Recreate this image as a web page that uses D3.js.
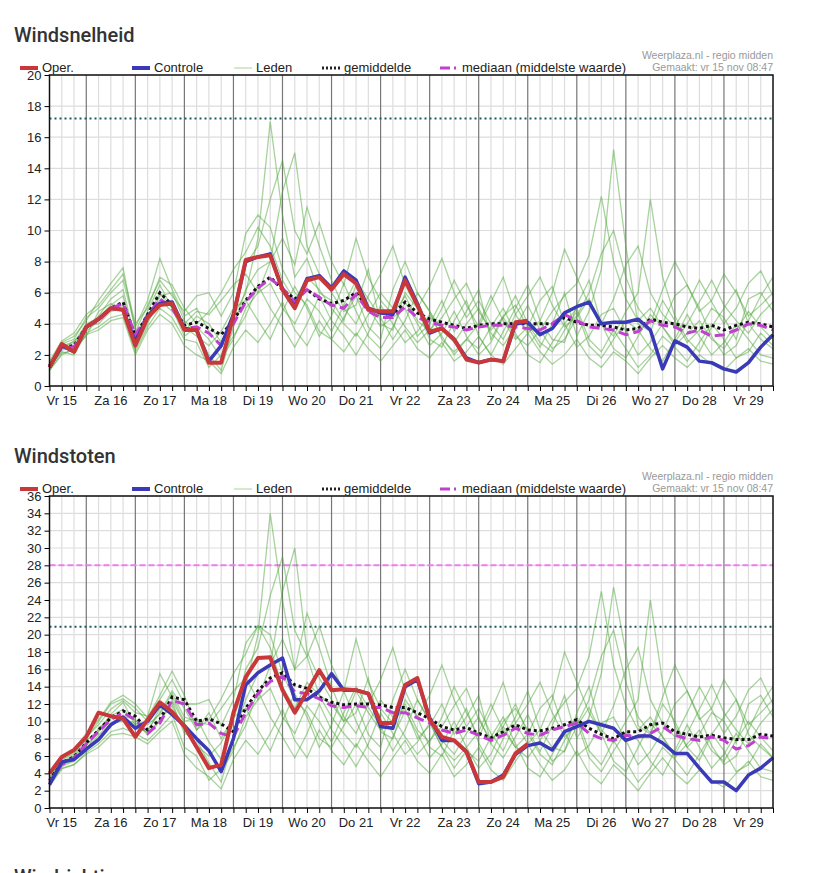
<!DOCTYPE html>
<html><head><meta charset="utf-8">
<script src="https://cdn.jsdelivr.net/npm/d3@7"></script>
<style>body{margin:0;background:#fff;font-family:Roboto,Arial,sans-serif}</style>
</head><body><svg id="c" width="833" height="873"></svg>
<script>
const dayLabels=["Vr 15","Za 16","Zo 17","Ma 18","Di 19","Wo 20","Do 21","Vr 22","Za 23","Zo 24","Ma 25","Di 26","Wo 27","Do 28","Vr 29"];
// 6-hourly steps from Vr 15 06:00
const speedOper=[1.2,2.7,2.2,3.8,4.3,5.0,4.9,2.6,4.4,5.2,5.3,3.6,3.6,1.5,1.5,4.5,8.1,8.3,8.4,6.2,5.0,6.8,7.0,6.2,7.2,6.6,4.9,4.8,4.8,6.8,5.2,3.5,3.7,3.0,1.7,1.5,1.7,1.6,4.1,4.2];
const speedCtrl=[1.2,2.6,2.2,3.8,4.3,5.0,4.9,2.8,4.5,5.3,5.4,3.7,3.6,1.6,2.6,4.6,8.0,8.3,8.5,6.2,5.1,6.9,7.1,6.3,7.4,6.8,5.0,4.7,4.6,7.0,5.3,3.4,3.7,3.0,1.8,1.5,1.7,1.6,4.0,4.1,3.3,3.7,4.7,5.1,5.4,4.0,4.1,4.1,4.3,3.6,1.1,2.9,2.5,1.6,1.5,1.1,0.9,1.5,2.5,3.3];
const speedMean=[1.3,2.5,2.6,3.8,4.3,5.0,5.4,3.2,4.6,6.0,5.2,3.9,4.1,3.7,3.3,4.2,5.5,6.4,7.0,6.2,5.6,6.2,5.6,5.3,5.5,6.0,5.0,4.7,4.6,5.4,4.7,4.3,4.1,3.9,3.7,3.9,4.0,4.0,4.0,4.0,4.0,4.0,4.4,4.1,3.9,3.9,3.8,3.6,3.7,4.3,4.1,4.0,3.8,3.7,3.9,3.6,3.9,4.1,4.0,3.8];
const speedMedian=[1.3,2.5,2.5,3.8,4.2,5.0,5.3,3.3,4.5,5.6,5.0,3.7,3.8,3.4,2.6,4.0,5.4,6.3,6.9,6.3,5.4,6.2,5.7,5.2,5.0,5.9,4.8,4.4,4.4,5.1,4.4,4.1,3.9,3.8,3.6,3.8,3.9,3.9,3.8,3.7,3.6,4.0,4.6,4.2,3.8,3.7,3.6,3.3,3.5,4.2,3.9,3.8,3.4,3.6,3.2,3.3,3.6,4.0,3.9,3.6];
const speedMembers=[
[1.3,2.4,2.9,3.6,4.5,5.6,6.2,3.0,4.8,6.5,5.0,3.5,4.5,4.0,2.8,4.5,6.0,9.5,17.0,11.0,7.0,8.2,6.0,5.5,4.2,6.5,5.0,3.8,4.4,5.0,3.2,4.0,5.5,3.5,4.8,6.2,3.0,4.5,5.2,3.8,2.5,4.0,6.0,3.2,4.8,7.5,15.2,9.0,4.0,3.5,5.5,4.2,2.8,3.6,5.0,4.4,3.0,5.6,6.0,4.8],
[1.0,2.0,2.4,3.2,4.8,5.3,4.8,2.4,4.0,5.8,6.0,4.2,3.5,2.0,1.0,3.8,6.2,7.5,8.0,12.5,15.0,9.0,7.2,6.0,4.8,5.2,7.5,4.0,3.6,6.0,5.0,3.0,2.5,4.2,5.5,3.2,2.0,3.5,5.0,6.5,4.2,3.0,2.8,5.2,6.8,4.0,3.2,4.8,6.0,12.0,7.0,4.5,3.0,2.2,3.8,5.0,6.2,4.0,3.0,2.4],
[1.5,2.8,3.2,4.2,5.5,6.6,7.6,3.5,5.2,6.8,5.8,4.8,5.8,6.0,4.5,6.0,9.8,11.0,10.2,7.5,6.0,5.2,3.5,3.0,4.4,5.8,3.8,3.0,6.2,8.0,6.0,4.8,3.0,2.2,3.0,4.0,5.8,4.2,3.0,3.8,5.5,6.4,4.0,2.5,3.2,4.6,5.0,3.5,2.0,2.8,4.0,5.8,6.5,5.0,3.2,2.0,2.6,4.2,5.8,7.0],
[1.2,2.2,2.0,3.4,3.8,4.4,4.6,2.2,3.8,5.0,4.4,3.0,2.8,1.2,2.0,3.2,4.5,6.5,5.0,3.8,2.5,4.0,5.8,4.2,3.2,2.0,3.4,5.2,4.0,2.8,3.5,4.6,3.2,2.0,3.0,2.4,3.8,5.0,3.4,2.0,1.5,2.8,4.0,5.0,3.0,2.2,3.6,2.4,1.2,2.0,3.2,2.5,1.6,2.8,4.0,3.0,1.8,2.2,3.4,2.6],
[1.4,2.6,2.8,4.0,4.4,5.2,5.8,3.0,4.6,5.5,4.8,4.0,4.8,4.6,5.5,6.5,7.2,6.0,8.0,9.5,7.8,11.5,9.0,6.8,5.0,4.0,5.8,7.2,9.0,6.5,5.0,6.4,8.2,6.0,4.4,5.5,4.0,3.0,4.6,5.8,7.0,5.2,3.8,4.5,6.0,8.5,10.0,7.0,5.0,4.0,6.2,8.0,6.5,4.8,5.5,7.2,6.0,4.5,5.2,6.0],
[1.1,2.5,2.6,3.9,4.0,4.8,5.0,2.8,4.2,5.2,5.4,3.8,3.2,2.6,3.5,5.0,5.5,4.2,3.0,4.8,6.4,5.0,3.2,4.5,6.6,4.8,3.2,2.4,3.8,5.4,4.0,2.6,3.4,4.8,3.2,2.0,2.8,4.4,5.8,4.0,2.8,2.2,3.6,4.8,2.6,1.8,3.0,4.2,3.6,2.4,1.6,3.0,4.6,3.2,2.0,2.8,4.0,3.0,2.0,1.8],
[1.3,2.7,3.0,4.4,5.0,6.0,6.8,3.8,5.5,8.2,6.2,4.5,5.0,3.5,2.5,4.8,7.8,9.0,12.0,14.5,10.0,8.5,10.5,8.0,6.5,9.5,7.0,5.5,4.6,5.8,4.2,3.5,5.0,6.8,5.2,3.8,5.4,7.0,4.6,3.4,4.2,6.0,8.8,7.0,5.2,4.0,5.6,7.8,9.0,6.0,4.6,3.8,5.2,6.8,5.4,4.0,5.0,6.6,7.4,5.8],
[1.2,2.3,2.5,3.5,4.2,4.9,5.2,2.5,4.4,6.0,5.0,3.2,3.8,3.0,1.8,3.0,5.0,6.0,6.6,5.0,4.0,5.6,4.8,3.5,5.2,6.8,5.6,4.4,3.0,4.2,6.0,4.8,3.6,2.8,4.0,5.0,3.4,2.6,3.8,5.2,3.6,2.4,3.0,4.4,5.6,4.0,2.4,1.8,3.2,4.6,3.8,2.6,3.4,4.2,3.0,2.4,3.6,4.8,3.8,3.0],
[1.6,2.9,3.4,4.6,5.2,6.2,7.2,4.0,5.0,7.0,6.5,5.0,4.0,4.8,6.0,7.5,8.6,10.2,9.0,6.8,5.5,7.0,6.2,5.0,4.0,3.2,4.6,6.0,5.0,3.8,2.8,3.6,4.4,5.6,6.6,4.8,3.6,4.4,3.2,2.6,3.6,4.8,5.8,6.6,8.4,12.2,8.0,5.6,4.2,5.0,3.8,2.8,4.0,5.4,6.8,5.2,4.2,3.4,4.6,5.4],
[1.0,2.1,2.3,3.3,3.6,4.2,4.4,2.0,3.6,4.6,4.0,2.6,2.0,1.6,0.8,2.5,3.6,2.8,4.0,5.4,3.6,2.6,4.2,3.0,2.2,3.4,2.4,1.6,2.6,3.6,2.4,1.8,2.8,1.6,2.2,3.2,2.0,1.4,2.4,3.4,2.2,1.4,2.0,3.0,1.8,1.2,2.2,1.6,0.8,1.8,2.6,1.8,1.2,2.0,1.4,1.0,1.8,2.4,1.6,1.4]];
const gustOper=[4.0,5.9,6.7,8.2,11.0,10.6,10.3,8.2,10.2,12.2,11.1,9.4,7.0,4.6,5.0,11.0,15.1,17.3,17.4,13.6,11.0,13.4,15.9,13.6,13.7,13.6,13.2,9.8,9.8,14.2,15.0,10.2,8.2,7.8,6.5,3.0,3.0,3.6,6.3,7.4];
const gustCtrl=[2.7,5.3,5.6,6.8,7.9,9.6,10.5,9.2,10.0,11.9,10.8,9.5,8.0,6.6,4.2,8.0,14.2,15.6,16.5,17.3,12.5,12.5,13.5,15.5,13.6,13.6,13.2,9.4,9.2,14.0,14.8,10.4,7.8,7.8,6.5,2.8,3.0,3.8,6.2,7.2,7.5,6.7,8.8,9.4,10.0,9.6,9.2,7.8,8.3,8.3,7.5,6.3,6.3,4.6,3.0,3.0,2.0,3.8,4.6,5.8];
const gustMean=[3.2,5.2,5.9,7.5,9.0,10.4,11.2,10.6,9.0,10.2,12.8,12.5,10.0,10.3,9.7,8.8,11.5,13.5,15.0,15.6,14.2,13.8,12.8,12.2,11.9,12.0,12.0,11.9,11.6,11.6,11.0,10.3,9.4,9.0,9.3,8.6,8.1,8.8,9.6,9.0,8.9,9.2,9.6,10.2,9.2,8.5,8.0,8.8,8.8,9.6,9.8,8.8,8.5,8.2,8.4,8.1,7.9,7.9,8.5,8.3];
const gustMedian=[3.0,5.0,5.8,7.4,8.8,10.2,11.0,10.2,8.6,9.8,12.4,12.0,9.6,9.8,8.6,8.2,11.0,13.2,14.6,15.2,13.4,13.2,12.6,11.8,11.6,11.8,11.6,11.6,11.0,11.0,10.4,9.8,9.0,8.6,9.0,8.4,7.8,8.4,9.2,8.6,8.4,9.0,9.4,9.8,8.6,8.0,7.8,8.4,8.2,8.6,9.4,8.4,8.0,7.8,8.2,7.8,6.8,7.2,8.2,8.0];
const gustMembers=[
[3.0,5.0,6.0,7.2,8.8,10.8,12.2,9.5,9.0,11.0,13.5,11.5,9.0,11.0,8.0,10.5,14.0,20.0,34.0,24.0,16.0,17.5,13.0,12.0,10.0,13.5,11.0,9.0,10.0,11.5,8.0,9.5,12.0,8.5,10.5,13.0,7.5,10.0,11.5,9.0,6.5,9.5,13.0,8.0,10.5,15.5,25.5,18.0,9.5,8.5,12.0,10.0,7.0,8.5,11.0,10.0,7.5,12.0,13.0,10.5],
[2.6,4.8,5.4,6.6,9.2,10.4,10.6,10.2,8.4,10.0,12.4,9.8,7.8,5.2,3.0,8.0,12.5,15.5,16.5,25.0,30.0,18.0,15.0,12.5,10.0,11.0,15.0,8.8,8.0,12.5,10.5,7.0,6.0,9.0,11.5,7.5,5.0,8.0,10.5,13.5,9.0,7.0,6.5,11.0,14.0,9.0,7.5,10.0,12.5,24.0,14.5,9.5,7.0,5.5,8.5,10.5,12.5,8.5,7.0,5.8],
[3.4,5.6,6.4,8.0,10.0,12.0,12.6,11.5,10.0,12.5,14.8,12.0,12.0,12.5,9.5,12.5,19.0,21.0,20.0,15.5,12.5,11.0,8.0,7.0,9.5,12.0,8.5,7.0,12.5,16.0,12.5,10.0,7.0,5.5,7.0,8.8,12.0,9.0,7.0,8.5,11.5,13.0,8.8,6.0,7.2,9.8,10.5,7.8,5.0,6.5,8.8,12.0,13.5,10.5,7.2,5.0,6.0,9.0,12.0,14.0],
[2.8,4.6,5.0,6.4,7.4,8.8,9.2,8.6,7.8,9.2,10.8,7.0,6.0,3.2,4.5,7.0,9.5,13.5,10.5,8.2,5.8,8.6,12.0,9.0,7.0,4.8,7.4,11.0,8.6,6.2,7.6,9.8,7.0,4.6,6.6,5.4,8.2,10.5,7.4,4.6,3.6,6.2,8.6,10.5,6.6,5.0,7.8,5.4,3.0,4.6,7.0,5.6,3.8,6.2,8.6,6.6,4.2,5.0,7.4,5.8],
[3.2,5.4,6.0,7.8,9.0,10.6,11.4,10.0,9.6,10.8,13.2,10.5,10.0,9.6,11.5,13.5,15.0,12.5,16.5,19.5,16.0,22.5,18.5,14.0,10.5,8.6,12.0,14.8,18.5,13.5,10.5,13.0,16.5,12.5,9.4,11.5,8.6,6.6,9.8,12.0,14.5,11.0,8.2,9.6,12.5,17.5,20.5,14.5,10.5,8.6,12.8,16.5,13.5,10.2,11.5,14.8,12.5,9.6,11.0,12.5],
[2.9,5.2,5.8,7.0,8.0,9.6,10.2,9.8,8.6,10.2,11.8,9.0,7.2,6.0,7.5,10.5,11.5,9.0,6.6,10.0,13.2,10.5,7.0,9.6,13.5,10.0,7.0,5.4,8.2,11.2,8.6,5.8,7.4,10.0,7.0,4.6,6.2,9.4,12.0,8.6,6.2,5.0,7.8,10.0,5.8,4.2,6.6,8.8,7.8,5.4,3.8,6.6,9.6,7.0,4.6,6.2,8.6,6.6,4.6,4.2],
[3.1,5.6,6.2,8.2,9.6,11.4,12.4,11.0,10.6,15.5,12.8,10.0,10.4,7.6,5.6,10.0,16.0,18.5,24.5,29.0,20.5,17.5,21.0,16.5,13.5,19.5,14.5,11.5,9.8,12.0,9.0,7.6,10.5,14.0,11.0,8.2,11.2,14.5,9.8,7.4,9.0,12.5,18.0,14.5,11.0,8.6,11.8,16.0,18.5,12.5,9.8,8.2,11.0,14.0,11.4,8.6,10.6,13.6,15.0,12.0],
[2.7,4.9,5.6,6.8,8.4,9.8,10.0,9.2,8.8,11.5,12.2,8.6,8.0,6.6,4.2,6.6,10.5,12.5,13.8,10.5,8.6,11.8,10.0,7.6,11.0,14.0,11.6,9.4,6.6,9.0,12.5,10.0,7.8,6.2,8.6,10.5,7.4,5.8,8.2,10.8,7.8,5.4,6.6,9.4,11.6,8.6,5.4,4.2,7.0,9.8,8.2,5.8,7.4,9.0,6.6,5.4,7.8,10.0,8.2,6.6],
[3.5,5.8,6.8,8.6,10.2,12.2,13.0,12.0,10.4,13.0,15.8,13.0,9.0,10.2,12.6,15.5,17.8,21.0,18.5,14.0,11.5,14.5,13.0,10.5,8.6,7.0,9.8,12.5,10.5,8.2,6.2,7.8,9.4,11.8,13.8,10.2,7.8,9.4,7.0,5.8,7.8,10.2,12.2,13.8,17.5,25.0,16.5,11.8,9.0,10.5,8.2,6.2,8.6,11.4,14.2,11.0,9.0,7.4,9.8,11.4],
[2.5,4.5,5.0,6.2,7.0,8.4,8.6,8.2,7.4,8.8,10.0,6.2,4.6,3.6,2.2,5.6,7.8,6.2,8.6,11.4,7.8,5.8,9.0,6.6,5.0,7.4,5.4,3.6,5.8,7.8,5.4,4.0,6.2,3.6,5.0,7.0,4.4,3.2,5.4,7.4,5.0,3.2,4.4,6.6,4.0,2.8,5.0,3.6,2.0,4.0,5.8,4.0,2.8,4.4,3.2,2.4,4.0,5.4,3.6,3.2]];

const svg=d3.select("#c");
const X0=49.5,X1=773;
const x=d3.scaleLinear().domain([6,360]).range([X0,X1]);
const tOf=i=>6+6*i;

function chart(o){
  const g=svg.append("g");
  const y=d3.scaleLinear().domain([0,o.ymax]).range([o.bottom,o.top]);
  g.append("text").attr("x",14).attr("y",o.titleY).text(o.title)
    .attr("font-size",20).attr("font-weight",500).attr("fill","#333");
  const ly=o.top-3;
  const leg=[
    {x:20,t:"Oper.",c:"#c8383a",w:4},
    {x:132,t:"Controle",c:"#3a3ab8",w:4},
    {x:234,t:"Leden",c:"#a9d49a",w:1},
    {x:322,t:"gemiddelde",c:"#222",w:3,d:"2,2"},
    {x:440,t:"mediaan (middelste waarde)",c:"#c040d0",w:3,d:"10,4,2,4"}];
  leg.forEach(l=>{
    g.append("line").attr("x1",l.x).attr("x2",l.x+18).attr("y1",ly-4).attr("y2",ly-4)
     .attr("stroke",l.c).attr("stroke-width",l.w).attr("stroke-dasharray",l.d||null);
    g.append("text").attr("x",l.x+22).attr("y",ly).text(l.t).attr("font-size",13)
     .attr("font-family","Arial, Liberation Sans, sans-serif").attr("fill","#222");
  });
  g.append("text").attr("x",773).attr("y",o.top-16).attr("text-anchor","end").text("Weerplaza.nl - regio midden")
    .attr("font-size",10.5).attr("fill","#999").attr("font-family","Arial, Liberation Sans, sans-serif");
  g.append("text").attr("x",773).attr("y",o.top-4).attr("text-anchor","end").text("Gemaakt: vr 15 nov 08:47")
    .attr("font-size",10.5).attr("fill","#999").attr("font-family","Arial, Liberation Sans, sans-serif");
  const minor=d3.range(12,360,6);
  g.selectAll(null).data(minor.filter(h=>h%24)).join("line")
    .attr("x1",d=>x(d)).attr("x2",d=>x(d)).attr("y1",o.top).attr("y2",o.bottom)
    .attr("stroke","#ddd").attr("stroke-width",1.2);
  const yt=d3.range(0,o.ymax+1,2);
  g.selectAll(null).data(yt).join("line")
    .attr("x1",X0).attr("x2",X1).attr("y1",d=>y(d)).attr("y2",d=>y(d))
    .attr("stroke","#ddd").attr("stroke-width",1.2);
  g.selectAll(null).data(d3.range(24,360,24)).join("line")
    .attr("x1",d=>x(d)).attr("x2",d=>x(d)).attr("y1",o.top).attr("y2",o.bottom)
    .attr("stroke","#777").attr("stroke-width",1.2);
  o.refs.forEach(r=>g.append("line").attr("x1",X0).attr("x2",X1).attr("y1",y(r.v)).attr("y2",y(r.v))
    .attr("stroke",r.c).attr("stroke-width",2).attr("stroke-dasharray",r.d));
  const line=d3.line().x((d,i)=>x(tOf(i))).y(d=>y(d));
  o.members.forEach(m=>g.append("path").attr("d",line(m)).attr("fill","none")
    .attr("stroke","#4fa83a").attr("stroke-opacity",0.5).attr("stroke-width",1.3));
  g.append("path").attr("d",line(o.mean)).attr("fill","none").attr("stroke","#111")
    .attr("stroke-width",3).attr("stroke-dasharray","3,3");
  g.append("path").attr("d",line(o.median)).attr("fill","none").attr("stroke","#c040d0")
    .attr("stroke-width",3).attr("stroke-dasharray","10,5");
  g.append("path").attr("d",line(o.ctrl)).attr("fill","none").attr("stroke","#3a3ab8")
    .attr("stroke-width",3.5).attr("stroke-linejoin","round");
  g.append("path").attr("d",line(o.oper)).attr("fill","none").attr("stroke","#c8383a")
    .attr("stroke-width",4).attr("stroke-linejoin","round");
  g.append("rect").attr("x",X0).attr("y",o.top).attr("width",X1-X0).attr("height",o.bottom-o.top)
    .attr("fill","none").attr("stroke","#111").attr("stroke-width",1.5);
  const ya=g.append("g").attr("transform",`translate(${X0},0)`)
    .call(d3.axisLeft(y).tickValues(yt).tickSize(5).tickSizeOuter(0));
  ya.select(".domain").remove();
  ya.selectAll("text").attr("font-size",13).attr("fill","#222").attr("font-family","Arial, Liberation Sans, sans-serif");
  const xa=g.append("g").attr("transform",`translate(0,${o.bottom})`)
    .call(d3.axisBottom(x).tickValues(d3.range(6,361,6)).tickSize(5).tickFormat(""));
  xa.select(".domain").remove();
  g.selectAll(null).data(dayLabels).join("text")
    .attr("x",(d,i)=>x(12+24*i)).attr("y",o.bottom+19).attr("text-anchor","middle").text(d=>d)
    .attr("font-size",13).attr("fill","#222").attr("font-family","Arial, Liberation Sans, sans-serif");
}
chart({title:"Windsnelheid",titleY:42,top:75,bottom:386,ymax:20,oper:speedOper,ctrl:speedCtrl,mean:speedMean,
  median:speedMedian,members:speedMembers,refs:[{v:17.2,c:"#1d5a5a",d:"2,3"}]});
chart({title:"Windstoten",titleY:463,top:496,bottom:808,ymax:36,oper:gustOper,ctrl:gustCtrl,mean:gustMean,
  median:gustMedian,members:gustMembers,refs:[{v:20.9,c:"#1d5a5a",d:"2,3"},{v:28,c:"#f07cf0",d:"6,3"}]});
svg.append("text").attr("x",14).attr("y",884).text("Windrichting").attr("font-size",20).attr("font-weight",500).attr("fill","#333");
</script></body></html>
